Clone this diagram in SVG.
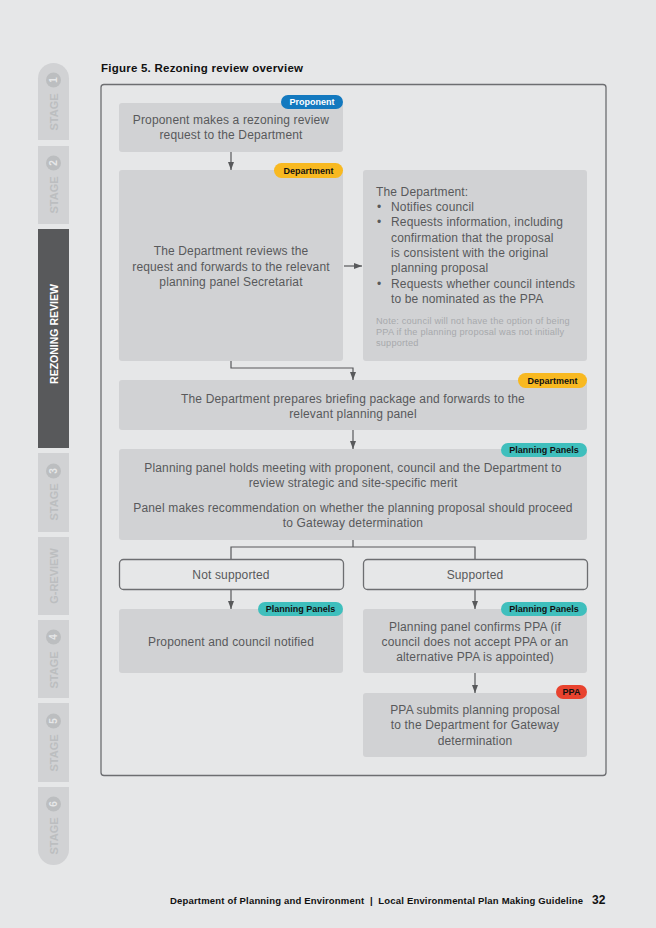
<svg xmlns="http://www.w3.org/2000/svg" width="656" height="928" viewBox="0 0 656 928">
<defs>
<marker id="ah" viewBox="0 0 8 6" refX="8" refY="3" markerWidth="8" markerHeight="6" markerUnits="userSpaceOnUse" orient="auto">
<path d="M0,0 L8,3 L0,6 Z" fill="#58595b"/>
</marker>
<style>
.bg{fill:#e6e7e8}
.box{fill:#d1d2d4}
.opt{fill:#e6e7e8;stroke:#6d6e71;stroke-width:1.3}
.tab{fill:#d1d2d4}
.tabtxt{font-family:"Liberation Sans",Arial,sans-serif;font-weight:bold;font-size:11px;fill:#bcbec0}
.num{font-family:"Liberation Sans",Arial,sans-serif;font-weight:bold;font-size:10px;fill:#e6e7e8}
.t{font-family:"Liberation Sans",Arial,sans-serif;font-size:12px;letter-spacing:0.15px;fill:#58595b}
.c{text-anchor:middle}
.note{font-family:"Liberation Sans",Arial,sans-serif;font-size:9.2px;letter-spacing:0.2px;fill:#a7a9ac}
.bt{font-family:"Liberation Sans",Arial,sans-serif;font-weight:bold;font-size:9px;text-anchor:middle;fill:#111}
.bw{fill:#fff}
.conn{fill:none;stroke:#58595b;stroke-width:1.2}
</style>
</defs>
<rect class="bg" x="0" y="0" width="656" height="928"/>

<g id="sidebar">
<path class="tab" d="M38,140 V78.5 A15.5,15.5 0 0 1 69,78.5 V140 Z"/>
<circle cx="53.5" cy="80" r="7.5" fill="#bcbec0"/>
<text class="num c" transform="translate(57,80) rotate(-90)">1</text>
<text class="tabtxt c" transform="translate(57.5,112) rotate(-90)">STAGE</text>

<rect class="tab" x="38" y="146" width="31" height="78"/>
<circle cx="53.5" cy="163" r="7.5" fill="#bcbec0"/>
<text class="num c" transform="translate(57,163) rotate(-90)">2</text>
<text class="tabtxt c" transform="translate(57.5,195) rotate(-90)">STAGE</text>

<rect x="38" y="229" width="31" height="219" fill="#58595b"/>
<text class="tabtxt c" style="fill:#fff;font-size:10.5px" transform="translate(57.5,334) rotate(-90)">REZONING REVIEW</text>

<rect class="tab" x="38" y="453" width="31" height="79"/>
<circle cx="53.5" cy="471" r="7.5" fill="#bcbec0"/>
<text class="num c" transform="translate(57,471) rotate(-90)">3</text>
<text class="tabtxt c" transform="translate(57.5,502) rotate(-90)">STAGE</text>

<rect class="tab" x="38" y="537" width="31" height="78"/>
<text class="tabtxt c" transform="translate(57.5,576) rotate(-90)">G-REVIEW</text>

<rect class="tab" x="38" y="620" width="31" height="78"/>
<circle cx="53.5" cy="637" r="7.5" fill="#bcbec0"/>
<text class="num c" transform="translate(57,637) rotate(-90)">4</text>
<text class="tabtxt c" transform="translate(57.5,670) rotate(-90)">STAGE</text>

<rect class="tab" x="38" y="703" width="31" height="79"/>
<circle cx="53.5" cy="721" r="7.5" fill="#bcbec0"/>
<text class="num c" transform="translate(57,721) rotate(-90)">5</text>
<text class="tabtxt c" transform="translate(57.5,753) rotate(-90)">STAGE</text>

<path class="tab" d="M38,787 H69 V849.5 A15.5,15.5 0 0 1 38,849.5 Z"/>
<circle cx="53.5" cy="804" r="7.5" fill="#bcbec0"/>
<text class="num c" transform="translate(57,804) rotate(-90)">6</text>
<text class="tabtxt c" transform="translate(57.5,836) rotate(-90)">STAGE</text>
</g>

<text x="101" y="72" font-family="Liberation Sans,Arial,sans-serif" font-weight="bold" font-size="11.5" textLength="202" lengthAdjust="spacing" fill="#111">Figure 5. Rezoning review overview</text>

<rect x="101" y="84.5" width="505" height="691" rx="3" fill="none" stroke="#6d6e71" stroke-width="1.3"/>

<g id="connectors">
<line class="conn" x1="231" y1="152" x2="231" y2="170" marker-end="url(#ah)"/>
<line class="conn" x1="344" y1="266" x2="362" y2="266" marker-end="url(#ah)"/>
<polyline class="conn" points="231,361 231,368 353,368 353,380" marker-end="url(#ah)"/>
<line class="conn" x1="353" y1="430" x2="353" y2="449" marker-end="url(#ah)"/>
<polyline class="conn" points="353,540 353,547"/>
<polyline class="conn" points="231,559 231,547 475,547 475,559"/>
<line class="conn" x1="231" y1="590" x2="231" y2="609" marker-end="url(#ah)"/>
<line class="conn" x1="475" y1="590" x2="475" y2="609" marker-end="url(#ah)"/>
<line class="conn" x1="475" y1="673" x2="475" y2="693" marker-end="url(#ah)"/>
</g>

<g id="n1">
<rect class="box" x="119" y="103" width="224" height="49" rx="3"/>
<text class="t c" x="231" y="124">Proponent makes a rezoning review</text>
<text class="t c" x="231" y="139">request to the Department</text>
<rect x="281" y="95" width="62" height="14" rx="7" fill="#1379bf"/>
<text class="bt bw" x="312" y="105.3">Proponent</text>
</g>

<g id="n2">
<rect class="box" x="119" y="170" width="224" height="191" rx="3"/>
<text class="t c" x="231" y="255">The Department reviews the</text>
<text class="t c" x="231" y="271">request and forwards to the relevant</text>
<text class="t c" x="231" y="286">planning panel Secretariat</text>
<rect x="274" y="163" width="69" height="15" rx="7.5" fill="#f8b921"/>
<text class="bt" x="308.5" y="173.5">Department</text>
</g>

<g id="n3">
<rect class="box" x="363" y="170" width="224" height="191" rx="3"/>
<text class="t" x="376" y="196">The Department:</text>
<text class="t" x="377" y="211">•</text><text class="t" x="391" y="211">Notifies council</text>
<text class="t" x="377" y="226">•</text><text class="t" x="391" y="226">Requests information, including</text>
<text class="t" x="391" y="242">confirmation that the proposal</text>
<text class="t" x="391" y="257">is consistent with the original</text>
<text class="t" x="391" y="272">planning proposal</text>
<text class="t" x="377" y="288">•</text><text class="t" x="391" y="288">Requests whether council intends</text>
<text class="t" x="391" y="303">to be nominated as the PPA</text>
<text class="note" x="376" y="324">Note: council will not have the option of being</text>
<text class="note" x="376" y="335">PPA if the planning proposal was not initially</text>
<text class="note" x="376" y="346">supported</text>
</g>

<g id="n4">
<rect class="box" x="119" y="380" width="468" height="50" rx="3"/>
<text class="t c" x="353" y="403">The Department prepares briefing package and forwards to the</text>
<text class="t c" x="353" y="418">relevant planning panel</text>
<rect x="518" y="373" width="69" height="15" rx="7.5" fill="#f8b921"/>
<text class="bt" x="552.5" y="383.5">Department</text>
</g>

<g id="n5">
<rect class="box" x="119" y="449" width="468" height="91" rx="3"/>
<text class="t c" x="353" y="472">Planning panel holds meeting with proponent, council and the Department to</text>
<text class="t c" x="353" y="487">review strategic and site-specific merit</text>
<text class="t c" x="353" y="512">Panel makes recommendation on whether the planning proposal should proceed</text>
<text class="t c" x="353" y="527">to Gateway determination</text>
<rect x="501" y="443" width="86" height="14" rx="7" fill="#3fbfbd"/>
<text class="bt" x="544" y="453.3">Planning Panels</text>
</g>

<g id="n6">
<rect class="opt" x="119.5" y="559.5" width="224" height="30" rx="4"/>
<text class="t c" x="231" y="579">Not supported</text>
</g>

<g id="n7">
<rect class="opt" x="363.5" y="559.5" width="224" height="30" rx="4"/>
<text class="t c" x="475" y="579">Supported</text>
</g>

<g id="n8">
<rect class="box" x="119" y="609" width="224" height="64" rx="3"/>
<text class="t c" x="231" y="646">Proponent and council notified</text>
<rect x="258" y="602" width="85" height="14" rx="7" fill="#3fbfbd"/>
<text class="bt" x="300.5" y="612.3">Planning Panels</text>
</g>

<g id="n9">
<rect class="box" x="363" y="609" width="224" height="64" rx="3"/>
<text class="t c" x="475" y="631">Planning panel confirms PPA (if</text>
<text class="t c" x="475" y="646">council does not accept PPA or an</text>
<text class="t c" x="475" y="661">alternative PPA is appointed)</text>
<rect x="501" y="602" width="86" height="14" rx="7" fill="#3fbfbd"/>
<text class="bt" x="544" y="612.3">Planning Panels</text>
</g>

<g id="n10">
<rect class="box" x="363" y="693" width="224" height="64" rx="3"/>
<text class="t c" x="475" y="714">PPA submits planning proposal</text>
<text class="t c" x="475" y="729">to the Department for Gateway</text>
<text class="t c" x="475" y="745">determination</text>
<rect x="556" y="685" width="31" height="14" rx="7" fill="#e8432f"/>
<text class="bt" x="571.5" y="695.3">PPA</text>
</g>

<text x="170" y="904" font-family="Liberation Sans,Arial,sans-serif" font-weight="bold" font-size="9.5" textLength="413" lengthAdjust="spacing" fill="#111" xml:space="preserve">Department of Planning and Environment  |  Local Environmental Plan Making Guideline</text>
<text x="592" y="904" font-family="Liberation Sans,Arial,sans-serif" font-weight="bold" font-size="12" fill="#111">32</text>
</svg>
